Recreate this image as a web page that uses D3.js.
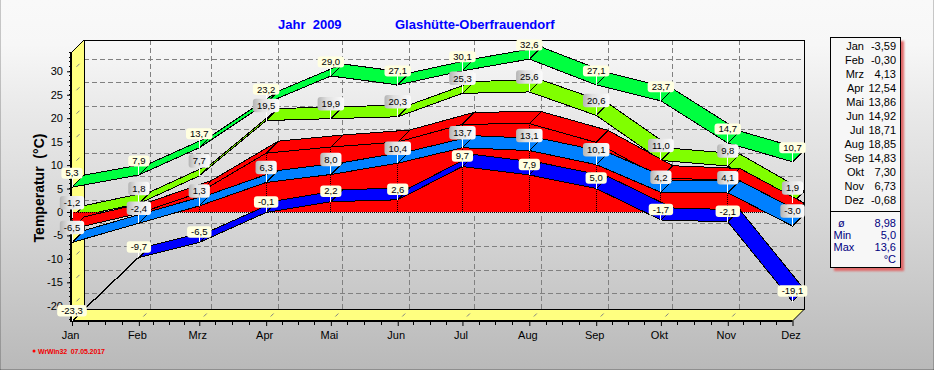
<!DOCTYPE html>
<html>
<head>
<meta charset="utf-8">
<script src="https://cdn.jsdelivr.net/npm/d3@7"></script>
<style>
  html,body{margin:0;padding:0;background:#ddd;}
  svg{display:block;font-family:"Liberation Sans",Arial,sans-serif;}
</style>
</head>
<body>
<svg id="chart" width="934" height="370"></svg>
<script>
// month labels and day-of-year of each measuring point
const months   = ['Jan','Feb','Mrz','Apr','Mai','Jun','Jul','Aug','Sep','Okt','Nov','Dez'];
const monthDay = [0,31,59,90,120,151,181,212,243,273,304,334];

// series, top to bottom
const absMax  = [5.3,7.9,13.7,23.2,29.0,27.1,30.1,32.6,27.1,23.7,14.7,10.7];
const avgMax  = [-1.2,1.8,7.7,19.5,19.9,20.3,25.3,25.6,20.6,11.0,9.8,1.9];
const avgMean = [-3.59,-0.30,4.13,12.54,13.86,14.92,18.71,18.85,14.83,7.30,6.73,-0.68];
const avgMin  = [-6.5,-2.4,1.3,6.3,8.0,10.4,13.7,13.1,10.1,4.2,4.1,-3.0];
const absMin  = [-23.3,-9.7,-6.5,-0.1,2.2,2.6,9.7,7.9,5.0,-1.7,-2.1,-19.1];

const yTicks  = [-20,-15,-10,-5,0,5,10,15,20,25,30];
const statLabels = ['ø','Min','Max'];
const statValues = ['8,98','5,0','13,6'];

const DEPTH = 12;                 // 3d offset of the back wall
const svg = d3.select('#chart');
const comma = (v,d) => v.toFixed(d).replace('.',',');

const xScale = d3.scaleLinear().domain([0,334]).range([72,792.5]);
const yScale = d3.scaleLinear().domain([0,30]).range([212,71.3]);
const yBottom = 321, yTop = 52;

/* ---- background ---- */
const defs = svg.append('defs');
const bg = defs.append('linearGradient').attr('id','bg').attr('x2',0).attr('y2',1);
[[0,'#f9f9f9'],[0.12,'#f7f7f7'],[0.3,'#e9e9e9'],[0.6,'#d6d6d6'],[1,'#b9b9b9']]
  .forEach(s=>bg.append('stop').attr('offset',s[0]).attr('stop-color',s[1]));
const grey = defs.append('linearGradient').attr('id','greyLabel');
[[0,'#b4b4b4'],[0.35,'#e0e0e0'],[1,'#fcfcfc']]
  .forEach(s=>grey.append('stop').attr('offset',s[0]).attr('stop-color',s[1]));
defs.append('filter').attr('id','soft').append('feGaussianBlur').attr('stdDeviation',0.8);

svg.append('rect').attr('width',934).attr('height',370).attr('fill','url(#bg)');
svg.append('rect').attr('y',369).attr('width',934).attr('height',1).attr('fill','#8f8f8f');
svg.append('rect').attr('width',1).attr('height',370).attr('fill','#000').attr('opacity',0.2);
svg.append('rect').attr('x',933).attr('width',1).attr('height',370).attr('fill','#000').attr('opacity',0.2);

/* ---- walls ---- */
const wall = svg.append('g').attr('shape-rendering','crispEdges');
const xBack0 = xScale(0)+DEPTH, xBack1 = xScale(334)+DEPTH;

// dashed grid on the back wall
wall.selectAll('.gridY').data(yTicks).enter().append('line')
  .attr('x1',xBack0).attr('x2',xBack1)
  .attr('y1',d=>yScale(d)-DEPTH).attr('y2',d=>yScale(d)-DEPTH)
  .attr('stroke','#808080').attr('stroke-dasharray','5,3');
wall.selectAll('.gridX').data(monthDay.slice(1,-1)).enter().append('line')
  .attr('x1',d=>xScale(d)+DEPTH).attr('x2',d=>xScale(d)+DEPTH)
  .attr('y1',yTop-DEPTH).attr('y2',yBottom-DEPTH)
  .attr('stroke','#808080').attr('stroke-dasharray','5,3');

// yellow side wall and floor
svg.append('polygon').attr('fill','#ffff80')
  .attr('points',[[72,yTop],[xBack0,yTop-DEPTH],[xBack0,yBottom-DEPTH],[72,yBottom]].join(' '));
svg.append('polygon').attr('fill','#ffff80')
  .attr('points',[[72,yBottom],[xBack0,yBottom-DEPTH],[xBack1,yBottom-DEPTH],[xScale(334),yBottom]].join(' '));

// little slanted marks on the yellow parts
svg.selectAll('.markY').data(yTicks).enter().append('line')
  .attr('x1',72+4.5).attr('x2',72+7.5)
  .attr('y1',d=>yScale(d)-4.5).attr('y2',d=>yScale(d)-7.5)
  .attr('stroke','#808080');
svg.selectAll('.markX').data(monthDay.slice(0,-1)).enter().append('line')
  .attr('x1',d=>xScale(d)+4.5).attr('x2',d=>xScale(d)+7.5)
  .attr('y1',yBottom-4.5).attr('y2',yBottom-7.5)
  .attr('stroke','#808080');

// frame of the back wall
const frame = svg.append('g').attr('fill','none').attr('stroke','#000');
frame.append('path').attr('shape-rendering','crispEdges')
  .attr('d',`M${xBack0},${yBottom-DEPTH}V${yTop-DEPTH}H${xBack1}V${yBottom-DEPTH}H${xBack0}`);
frame.append('path').attr('d',`M72,${yTop}L${xBack0},${yTop-DEPTH}`);
frame.append('path').attr('d',`M${xScale(334)},${yBottom}L${xBack1},${yBottom-DEPTH}`);

/* ---- ribbons ---- */
function ribbon(values, color){
  const quads = d3.pairs(values.map((v,i)=>[xScale(monthDay[i]),yScale(v)]));
  svg.append('g').attr('shape-rendering','crispEdges')
    .selectAll('polygon').data(quads).enter().append('polygon')
    .attr('fill',color).attr('stroke','#000')
    .attr('points',([a,b])=>[a,b,[b[0]+DEPTH,b[1]-DEPTH],[a[0]+DEPTH,a[1]-DEPTH]].join(' '));
}

ribbon(absMax,'#00ff40');
ribbon(avgMax,'#80ff00');

// mean is an area down to zero plus its ribbon
const area = d3.area().x((d,i)=>xScale(monthDay[i])).y0(yScale(0)).y1(d=>yScale(d));
svg.append('path').datum(avgMean).attr('fill','#ff0000').attr('d',area);
svg.selectAll('.drop').data(avgMean).enter().append('line')
  .attr('x1',(d,i)=>xScale(monthDay[i])).attr('x2',(d,i)=>xScale(monthDay[i]))
  .attr('y1',yScale(0)).attr('y2',d=>yScale(d))
  .attr('stroke','#000').attr('stroke-dasharray','1,1').attr('shape-rendering','crispEdges');
svg.append('line').attr('x1',xScale(0)).attr('x2',xScale(334))
  .attr('y1',yScale(0)+0.5).attr('y2',yScale(0)+0.5)
  .attr('stroke','#000').attr('stroke-dasharray','1,1');
ribbon(avgMean,'#ff0000');
ribbon(avgMin,'#0080ff');
ribbon(absMin,'#0000ff');

/* ---- axes ---- */
const axisFont = sel => sel.selectAll('text').attr('font-size',11).attr('font-family','"Liberation Sans"').attr('fill','#000');

const axisY = svg.append('g').attr('transform','translate(71,0)')
  .call(d3.axisLeft(yScale).tickValues(yTicks).tickSize(4).tickPadding(4).tickFormat(d=>d));
axisY.select('.domain').remove();
axisY.selectAll('line').attr('stroke','#000');
axisY.call(axisFont);

// small notches along the y axis, one per degree
svg.append('g').attr('shape-rendering','crispEdges').selectAll('line').data(d3.range(-23,35)).enter().append('line')
  .attr('x1',69).attr('x2',71).attr('y1',d=>yScale(d)).attr('y2',d=>yScale(d)).attr('stroke','#000');
svg.append('line').attr('x1',71).attr('x2',71).attr('y1',yTop).attr('y2',yBottom+1)
  .attr('stroke','#000').attr('stroke-width',2);

const axisX = svg.append('g').attr('transform',`translate(0,${yBottom})`)
  .call(d3.axisBottom(xScale).tickValues(monthDay).tickSize(5).tickPadding(5).tickFormat((d,i)=>months[i]));
axisX.select('.domain').remove();
axisX.selectAll('line').attr('stroke','#000');
axisX.call(axisFont);
axisX.selectAll('text').attr('dx',-2);

// minor ticks, four to a month
const minorDays = d3.pairs(monthDay).flatMap(([a,b])=>[1,2,3].map(k=>a+(b-a)*k/4));
svg.append('g').attr('shape-rendering','crispEdges').selectAll('line').data(minorDays).enter().append('line')
  .attr('x1',d=>xScale(d)).attr('x2',d=>xScale(d)).attr('y1',yBottom).attr('y2',yBottom+3.5).attr('stroke','#000');
svg.append('line').attr('x1',71).attr('x2',xScale(334)).attr('y1',yBottom).attr('y2',yBottom)
  .attr('stroke','#000').attr('stroke-width',2);

/* ---- data labels ---- */
function labels(values, style){
  const g = svg.append('g').selectAll('g').data(values).enter().append('g')
    .attr('transform',(d,i)=>`translate(${xScale(monthDay[i])},${yScale(d)})`);
  g.append('line').attr('y1',style.dy).attr('y2',0).attr('stroke','#fff').attr('shape-rendering','crispEdges');
  const box = g.append('rect')
    .attr('y',style.dy-style.h/2).attr('height',style.h).attr('rx',3)
    .attr('fill',style.fill);
  const txt = g.append('text').attr('text-anchor','middle').attr('y',style.dy+3.3)
    .attr('font-size',9.5).attr('fill','#000').text(d=>comma(d,1));
  // box follows the width of its text
  txt.each(function(d,i){
    const w = this.getComputedTextLength()+2*style.pad;
    d3.select(box.nodes()[i]).attr('x',-w/2).attr('width',w);
  });
}
const yellowLabel = {dy:-14,h:11,pad:4,fill:'#ffffe0'};
const greyLabel   = {dy:-15,h:13.5,pad:4,fill:'url(#greyLabel)'};
labels(absMax,yellowLabel);
labels(avgMax,greyLabel);
labels(avgMin,greyLabel);
labels(absMin,{...yellowLabel,dy:-10.5,h:11.5});

/* ---- titles ---- */
svg.append('text').attr('x',278).attr('y',29).attr('font-size',13).attr('font-weight','bold')
  .attr('fill','#0000ff').style('white-space','pre').text('Jahr  2009');
svg.append('text').attr('x',395).attr('y',29).attr('font-size',13).attr('font-weight','bold')
  .attr('fill','#0000ff').text('Glashütte-Oberfrauendorf');
svg.append('text').attr('transform','translate(44,188) rotate(-90)').attr('text-anchor','middle')
  .attr('font-size',14).attr('font-weight','bold').style('white-space','pre').text('Temperatur  (°C)');
svg.append('circle').attr('cx',34).attr('cy',351).attr('r',1.5).attr('fill','#f00');
svg.append('text').attr('x',38).attr('y',354).attr('font-size',7).attr('font-weight','bold')
  .attr('fill','#f00000').attr('letter-spacing',-0.1).style('white-space','pre').text('WrWin32  07.05.2017');

/* ---- side panel ---- */
const panel = svg.append('g');
panel.append('rect').attr('x',834).attr('y',41).attr('width',70).attr('height',230)
  .attr('fill','#e06868').attr('filter','url(#soft)');
panel.append('rect').attr('x',830.5).attr('y',37.5).attr('width',70).attr('height',230)
  .attr('fill','#f7f7f7').attr('stroke','#000').attr('shape-rendering','crispEdges');
panel.append('line').attr('x1',830.5).attr('x2',900.5).attr('y1',211.5).attr('y2',211.5)
  .attr('stroke','#000').attr('shape-rendering','crispEdges');

const rowY = d3.scalePoint().domain(months).range([50,204]);
panel.selectAll('.pm').data(months).enter().append('text')
  .attr('x',864).attr('y',d=>rowY(d)).attr('text-anchor','end').attr('font-size',11).text(d=>d);
panel.selectAll('.pv').data(avgMean).enter().append('text')
  .attr('x',896).attr('y',(d,i)=>rowY(months[i])).attr('text-anchor','end').attr('font-size',11).text(d=>comma(d,2));
panel.selectAll('.sl').data(statLabels).enter().append('text')
  .attr('x',(d,i)=>i?833.5:838).attr('y',(d,i)=>227+i*12).attr('font-size',11).attr('fill','#000080').text(d=>d);
panel.selectAll('.sv').data(statValues).enter().append('text')
  .attr('x',896).attr('y',(d,i)=>227+i*12).attr('text-anchor','end').attr('font-size',11).attr('fill','#000080').text(d=>d);
panel.append('text').attr('x',896).attr('y',263).attr('text-anchor','end').attr('font-size',11).attr('fill','#000080').text('°C');
</script>
</body>
</html>
